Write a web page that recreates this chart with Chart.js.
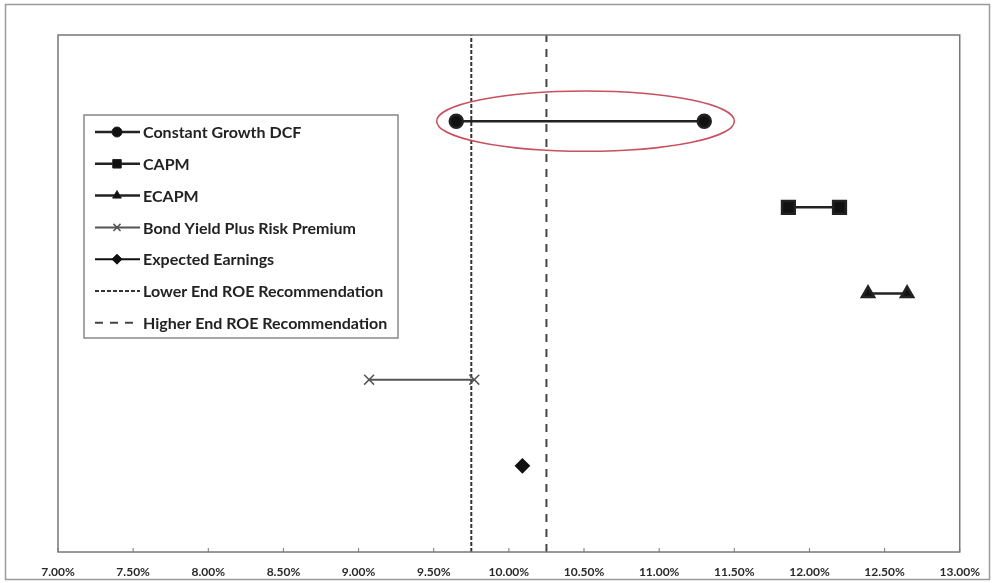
<!DOCTYPE html>
<html>
<head>
<meta charset="utf-8">
<script src="https://cdn.jsdelivr.net/npm/chart.js@4.4.0/dist/chart.umd.min.js"></script>
<style>
  html, body { margin: 0; padding: 0; background: #fff; }
  canvas { display: block; }
</style>
</head>
<body>
<canvas id="grafico" width="993" height="583"></canvas>
<script>
// nomes das series (legenda)
const nomes = [
  "Constant Growth DCF",
  "CAPM",
  "ECAPM",
  "Bond Yield Plus Risk Premium",
  "Expected Earnings",
  "Lower End ROE Recommendation",
  "Higher End ROE Recommendation"
];
// faixas de ROE (%)
const dcf = [9.65, 11.30];
const capm = [11.86, 12.20];
const ecapm = [12.39, 12.65];
const bondYield = [9.07, 9.77];
const expectedEarnings = [10.09];
const roeBaixo = 9.75;
const roeAlto = 10.25;
// linha (altura) de cada metodo, de cima para baixo
const linhas = [5, 4, 3, 2, 1];
const eixoY = [0, 6];
// rotulos do eixo x
const ticksX = [7.00, 7.50, 8.00, 8.50, 9.00, 9.50, 10.00, 10.50, 11.00, 11.50, 12.00, 12.50, 13.00];

const pontos = (valores, y) => valores.map(v => ({ x: v, y: y }));
const vertical = v => [{ x: v, y: eixoY[0] }, { x: v, y: eixoY[1] }];

const datasets = [
  { label: nomes[0], data: pontos(dcf, linhas[0]), pointStyle: "circle", pointRadius: 6.5,
    borderColor: "#222", backgroundColor: "#111", borderWidth: 2.5 },
  { label: nomes[1], data: pontos(capm, linhas[1]), pointStyle: "rect", pointRadius: 9,
    borderColor: "#222", backgroundColor: "#111", borderWidth: 2.5 },
  { label: nomes[2], data: pontos(ecapm, linhas[2]), pointStyle: "triangle", pointRadius: 7,
    borderColor: "#222", backgroundColor: "#111", borderWidth: 2.5 },
  { label: nomes[3], data: pontos(bondYield, linhas[3]), pointStyle: "crossRot", pointRadius: 7,
    borderColor: "#555", backgroundColor: "#555", borderWidth: 2, pointBorderWidth: 1.5 },
  { label: nomes[4], data: pontos(expectedEarnings, linhas[4]), pointStyle: "rectRot", pointRadius: 6.5,
    borderColor: "#111", backgroundColor: "#111", borderWidth: 2 },
  { label: nomes[5], data: vertical(roeBaixo), pointRadius: 0, borderColor: "#333",
    borderWidth: 2, borderDash: [4, 2] },
  { label: nomes[6], data: vertical(roeAlto), pointRadius: 0, borderColor: "#444",
    borderWidth: 2, borderDash: [8, 7] }
];

// moldura externa, borda do grafico, marcas do eixo e elipse vermelha
const molduras = {
  id: "molduras",
  beforeDraw(chart) {
    const ctx = chart.ctx;
    ctx.save();
    ctx.strokeStyle = "#9a9a9a";
    ctx.lineWidth = 1.5;
    ctx.strokeRect(5.5, 4.5, 984, 575);
    ctx.restore();
  },
  afterDatasetsDraw(chart) {
    const ctx = chart.ctx;
    const a = chart.chartArea;
    const sx = chart.scales.x, sy = chart.scales.y;
    ctx.save();
    ctx.strokeStyle = "#777";
    ctx.lineWidth = 1.5;
    ctx.strokeRect(a.left, a.top, a.right - a.left, a.bottom - a.top);
    ctx.lineWidth = 1;
    sx.ticks.forEach(t => {
      const px = sx.getPixelForValue(t.value);
      ctx.beginPath();
      ctx.moveTo(px, a.bottom);
      ctx.lineTo(px, a.bottom - 4);
      ctx.stroke();
    });
    // elipse em volta do DCF
    const cx = sx.getPixelForValue((9.52 + 11.50) / 2);
    const rx = sx.getPixelForValue(11.50) - cx;
    const cy = sy.getPixelForValue(linhas[0]);
    const ry = cy - sy.getPixelForValue(linhas[0] + 0.35);
    ctx.strokeStyle = "#c8505f";
    ctx.lineWidth = 1.5;
    ctx.beginPath();
    ctx.ellipse(cx, cy, rx, ry, 0, 0, Math.PI * 2);
    ctx.stroke();
    ctx.restore();
  },
  afterDraw(chart) {
    // legenda dentro da area do grafico
    const ctx = chart.ctx;
    const bx = 84, by = 115, bw = 314, bh = 223;
    ctx.save();
    ctx.fillStyle = "#fff";
    ctx.fillRect(bx, by, bw, bh);
    ctx.strokeStyle = "#888";
    ctx.lineWidth = 1.5;
    ctx.strokeRect(bx, by, bw, bh);
    ctx.font = "bold 16px Lato";
    ctx.textBaseline = "middle";
    chart.data.datasets.forEach((ds, i) => {
      const y = 132 + i * 31.8;
      ctx.strokeStyle = ds.borderColor;
      ctx.lineWidth = ds.borderWidth;
      ctx.setLineDash(ds.borderDash || []);
      ctx.beginPath();
      ctx.moveTo(95, y);
      ctx.lineTo(140, y);
      ctx.stroke();
      ctx.setLineDash([]);
      if (ds.pointRadius > 0) {
        ctx.fillStyle = ds.backgroundColor;
        ctx.lineWidth = ds.pointBorderWidth || 1;
        Chart.helpers.drawPoint(ctx, {
          pointStyle: ds.pointStyle, radius: ds.pointStyle === "rect" ? 6 : 5,
          rotation: 0, borderWidth: ds.pointBorderWidth || 1
        }, 117, y);
      }
      ctx.fillStyle = "#222";
      ctx.fillText(ds.label, 143, y + 1);
    });
    ctx.restore();
  }
};

new Chart(document.getElementById("grafico"), {
  type: "scatter",
  data: { datasets: datasets.map(d => Object.assign({ showLine: true, fill: false, pointHoverRadius: d.pointRadius }, d)) },
  options: {
    responsive: false,
    animation: false,
    layout: { padding: { left: 58, right: 33, top: 35, bottom: 4 } },
    plugins: { legend: { display: false }, tooltip: { enabled: false } },
    scales: {
      x: {
        type: "linear",
        min: ticksX[0],
        max: ticksX[ticksX.length - 1],
        afterBuildTicks: s => { s.ticks = ticksX.map(v => ({ value: v })); },
        afterFit: s => { s.height = 27; },
        grid: { display: false, drawTicks: false },
        border: { display: false },
        ticks: {
          padding: 13,
          maxRotation: 0,
          autoSkip: false,
          color: "#2a2a2a",
          font: { family: "Lato", size: 12, weight: "bold" },
          callback: v => v.toFixed(2) + "%"
        }
      },
      y: { display: false, min: eixoY[0], max: eixoY[1] }
    }
  },
  plugins: [molduras]
});
</script>
</body>
</html>
